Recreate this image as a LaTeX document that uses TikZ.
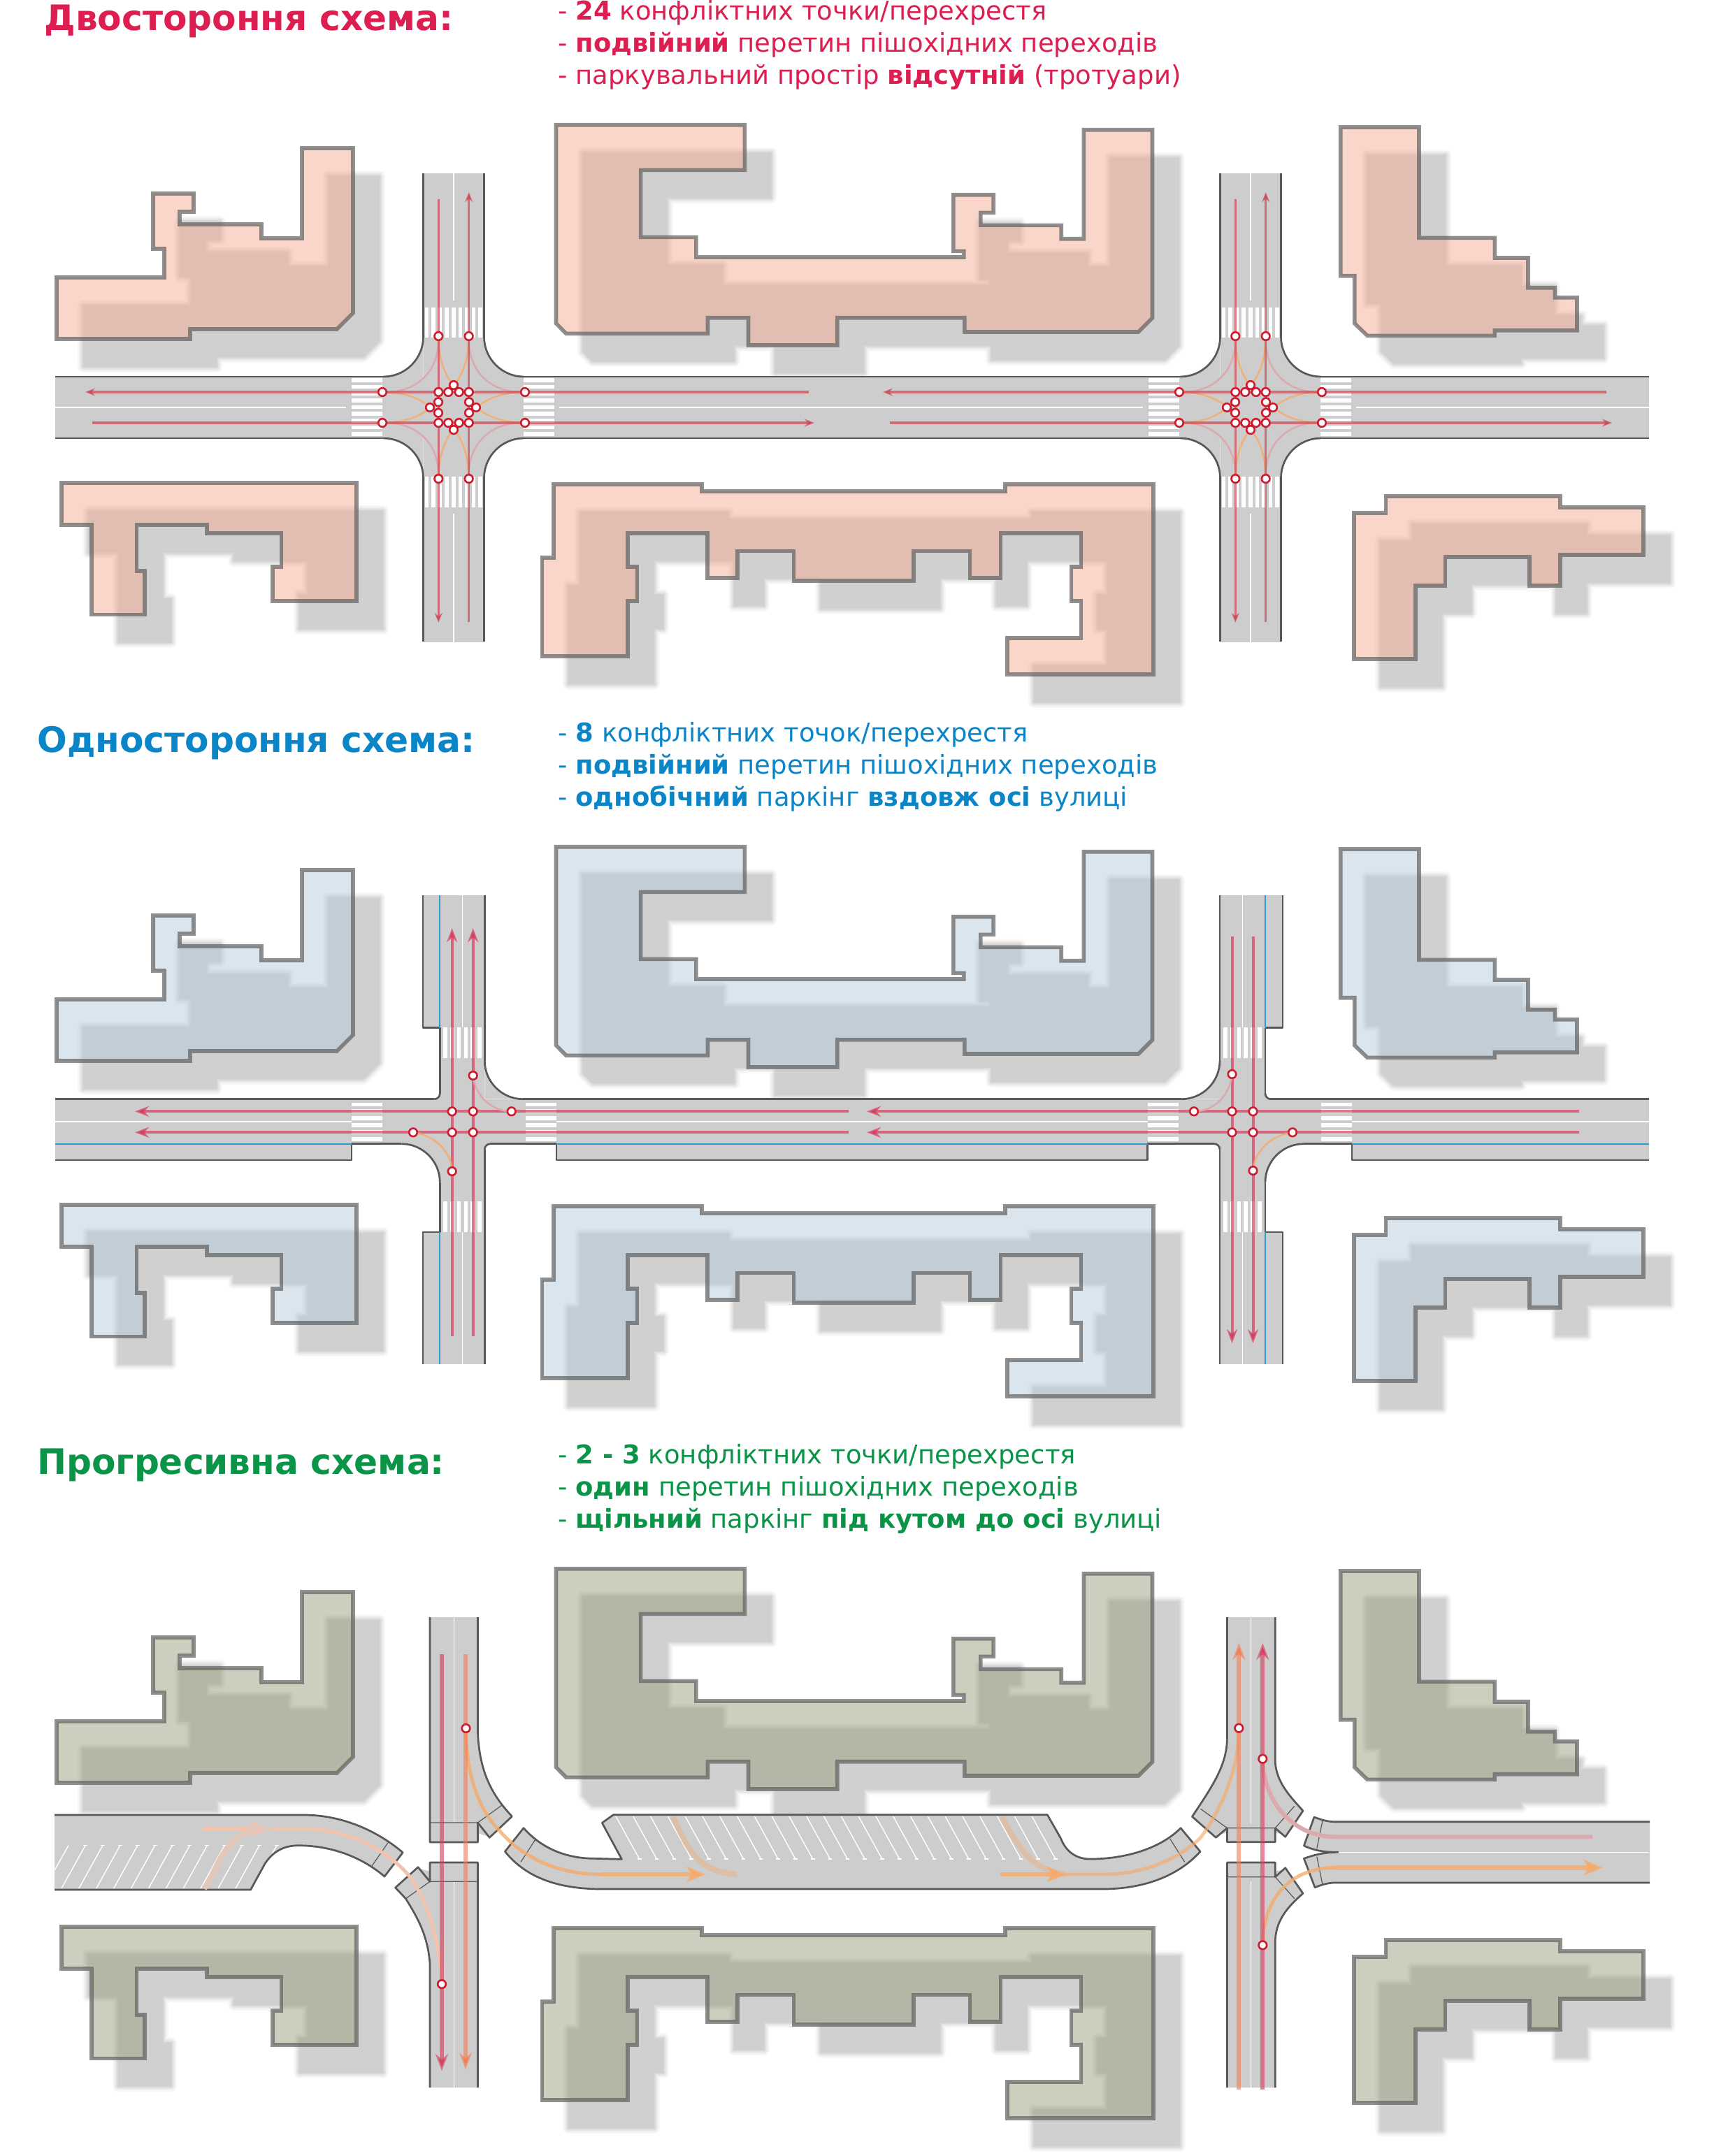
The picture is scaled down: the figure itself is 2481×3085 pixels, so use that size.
\documentclass[tikz,border=0pt]{standalone}
\usepackage{fontspec}
\setmainfont{DejaVu Sans}
\usetikzlibrary{arrows.meta}

\definecolor{shadowgrey}{HTML}{D0D0D0}
\definecolor{roadgrey}{HTML}{CDCDCD}
\definecolor{kerbgrey}{HTML}{585858}
\definecolor{wallgrey}{HTML}{606060}
\definecolor{lanered}{HTML}{CE4755}
\definecolor{lanepink}{HTML}{D73D5E}
\definecolor{lanesalmon}{HTML}{F37E56}
\definecolor{turnorange}{HTML}{F5AB6B}
\definecolor{turnpink}{HTML}{DBA9AE}
\definecolor{turnpale}{HTML}{F2C4AE}
\definecolor{pointred}{HTML}{CF1B2E}
\definecolor{parkblue}{HTML}{2F9AD0}
\definecolor{textred}{HTML}{DC1E50}
\definecolor{textblue}{HTML}{0A85C8}
\definecolor{textgreen}{HTML}{0A9447}
\definecolor{housepink}{HTML}{F5AD95}
\definecolor{houseblue}{HTML}{B7CBDB}
\definecolor{houseolive}{HTML}{97A17D}

\tikzset{
  road/.style={fill=roadgrey},
  kerb/.style={draw=kerbgrey,line width=1.35pt,line join=round},
  thinkerb/.style={draw=kerbgrey,line width=0.6pt},
  stripe/.style={draw=white,line width=2.8pt},
  midline/.style={draw=white,line width=0.8pt},
  parkline/.style={draw=white,line width=0.7pt},
  bluekerb/.style={draw=parkblue,line width=0.9pt},
  lane/.style={draw=lanered,draw opacity=0.7,line width=1.7pt,-{Stealth[length=7pt,width=5.5pt]}},
  widelane/.style={draw=lanepink,draw opacity=0.7,line width=2pt,-{Stealth[length=10pt,width=7.5pt]}},
  fatlane/.style={draw=lanepink,draw opacity=0.62,line width=3pt,-{Stealth[length=12pt,width=9pt]}},
  turn/.style={draw=turnorange,draw opacity=0.85,line width=1.25pt},
  paleturn/.style={draw=turnpink,line width=1.25pt},
  bigturn/.style={draw=turnorange,draw opacity=0.85,line width=3.3pt},
  bigarrow/.style={bigturn,-{Stealth[length=13pt,width=11pt,inset=3pt]}},
  curveturn/.style={draw=turnorange,draw opacity=0.8,line width=2.4pt},
  faintturn/.style={draw=turnpale,line width=2.5pt},
  ramp/.style={draw=turnorange,draw opacity=0.45,line width=0.7pt,double=turnorange!25!roadgrey,double distance=2.6pt},
  conflict/.style={circle,draw=pointred,fill=white,line width=1.3pt,minimum size=5.8pt,inner sep=0pt},
  head/.style={font=\fontsize{25.1}{25.1}\selectfont\bfseries,anchor=base west,inner sep=0pt},
  listline/.style={font=\fontsize{18.5}{18.5}\selectfont,anchor=base west,inner sep=0pt}
}

% Building outlines of the first panel
\def\blockA{(81,485) -- (81,397) -- (235,397) -- (235,356) -- (219,356) -- (219,277) -- (277,277) -- (277,303) -- (257,303) -- (257,321) -- (374,321) -- (374,341) -- (432,341) -- (432,212) -- (505,212) -- (505,448) -- (482,471) -- (272,471) -- (272,485) -- cycle}
\def\blockB{(795.5,178.7) -- (1065.3,178.7) -- (1065.3,243.3) -- (916.6,243.3) -- (916.6,339.3) -- (995.8,339.3) -- (995.8,368) -- (1378.7,368) -- (1378.7,359.3) -- (1363.8,359.3) -- (1363.8,278.7) -- (1421.2,278.7) -- (1421.2,304.3) -- (1402.8,304.3) -- (1402.8,322.3) -- (1518.2,322.3) -- (1518.2,341.7) -- (1550.4,341.7) -- (1550.4,185.7) -- (1648.5,185.7) -- (1648.5,455) -- (1628.5,475) -- (1379.9,475) -- (1379.9,454.7) -- (1197.9,454.7) -- (1197.9,494) -- (1070.5,494) -- (1070.5,454.7) -- (1012.5,454.7) -- (1012.5,477.3) -- (809.9,477.3) -- (795.5,462.7) -- cycle}
\def\blockC{(1917.7,182) -- (2030,182) -- (2030,340.3) -- (2138.3,340.3) -- (2138.3,369) -- (2186,369) -- (2186,411.7) -- (2224.3,411.7) -- (2224.3,425.7) -- (2256,425.7) -- (2256,472.7) -- (2138.3,472.7) -- (2138.3,480.3) -- (1956,480.3) -- (1937.7,462.7) -- (1937.7,394.7) -- (1917.7,394.7) -- cycle}
\def\blockD{(88,691) -- (510,691) -- (510,860) -- (390,860) -- (390,810.7) -- (402.3,810.7) -- (402.3,763) -- (296,763) -- (296,750.7) -- (195.3,750.7) -- (195.3,816.7) -- (207,816.7) -- (207,879.3) -- (131,879.3) -- (131,750.7) -- (88,750.7) -- cycle}
\def\blockE{(791.7,692.7) -- (1004.1,692.7) -- (1004.1,703) -- (1437.8,703) -- (1437.8,692.7) -- (1649.7,692.7) -- (1649.7,965) -- (1440.8,965) -- (1440.8,912.7) -- (1546.4,912.7) -- (1546.4,860) -- (1532.3,860) -- (1532.3,810.7) -- (1546.4,810.7) -- (1546.4,762.7) -- (1431.4,762.7) -- (1431.4,827) -- (1387.3,827) -- (1387.3,788.3) -- (1307,788.3) -- (1307,830.7) -- (1135.6,830.7) -- (1135.6,788.3) -- (1055.2,788.3) -- (1055.2,827) -- (1011.8,827) -- (1011.8,762.7) -- (897.9,762.7) -- (897.9,810.7) -- (911.4,810.7) -- (911.4,860) -- (897.9,860) -- (897.9,939) -- (775.3,939) -- (775.3,798) -- (791.7,798) -- cycle}
\def\blockF{(1936.7,734) -- (1982.3,734) -- (1982.3,710) -- (2231.7,710) -- (2231.7,726) -- (2351,726) -- (2351,794) -- (2231.7,794) -- (2231.7,837.7) -- (2187.7,837.7) -- (2187.7,796.7) -- (2067.3,796.7) -- (2067.3,837.7) -- (2024.7,837.7) -- (2024.7,942.7) -- (1936.7,942.7) -- cycle}

\newcommand{\softshadow}[1]{%
  \draw[draw=shadowgrey!14,line width=8pt,line join=round] #1;
  \draw[draw=shadowgrey!32,line width=6pt,line join=round] #1;
  \draw[draw=shadowgrey!55,line width=4pt,line join=round] #1;
  \draw[draw=shadowgrey!80,line width=2pt,line join=round] #1;
  \fill[shadowgrey] #1;
}
\newcommand{\allshadows}[1]{%
  \begin{scope}[shift={(38,#1+40)}]
    \softshadow{\blockA}\softshadow{\blockB}\softshadow{\blockC}
    \softshadow{\blockD}\softshadow{\blockE}\softshadow{\blockF}
  \end{scope}
}
\newcommand{\allblocks}[2]{%
  \begin{scope}[shift={(0,#1)},fill=#2,fill opacity=0.5,draw=wallgrey,draw opacity=0.7,line width=2.8pt,line join=miter]
    \filldraw \blockA; \filldraw \blockB; \filldraw \blockC;
    \filldraw \blockD; \filldraw \blockE; \filldraw \blockF;
  \end{scope}
}
% Curved kerb: corner x, corner y, x sign, y sign, radius
\newcommand{\roadbend}[5]{%
  \fill[road] ({#1+#3*#5},#2) .. controls ({#1+#3*0.45*#5},#2) and (#1,{#2+#4*0.45*#5}) .. (#1,{#2+#4*#5}) -- (#1,#2) -- cycle;
  \draw[kerb] ({#1+#3*#5},#2) .. controls ({#1+#3*0.45*#5},#2) and (#1,{#2+#4*0.45*#5}) .. (#1,{#2+#4*#5});
}
% Road, zebra and turns of one junction in the first panel
\newcommand{\fullcross}[1]{%
  \fill[road] ({#1-43.5},248) rectangle ({#1+43.5},919);
  \foreach \i in {0,...,8} {
    \draw[stripe] ({#1-38.6+9.6*\i},440) -- ({#1-38.6+9.6*\i},483);
    \draw[stripe] ({#1-38.6+9.6*\i},682) -- ({#1-38.6+9.6*\i},726);
    \draw[stripe] ({#1-146},{544+9.65*\i}) -- ({#1-102},{544+9.65*\i});
    \draw[stripe] ({#1+100},{544+9.65*\i}) -- ({#1+144},{544+9.65*\i});
  }
  \draw[midline] (#1,248) -- (#1,430);
  \draw[midline] (#1,735) -- (#1,919);
  \foreach \sx in {-1,1} \foreach \sy in {-1,1} {
    \roadbend{#1+\sx*43.5}{583+\sy*44}{\sx}{\sy}{57}
    \draw[kerb] ({#1+\sx*43.5},{583+\sy*101}) -- ({#1+\sx*43.5},{583+\sy*335});
    \draw[paleturn] ({#1+\sx*21.7},{583+\sy*96}) .. controls ({#1+\sx*21.7},{583+\sy*50}) and ({#1+\sx*55},{583+\sy*22}) .. ({#1+\sx*96},{583+\sy*22});
    \draw[turn] ({#1+\sx*21.7},{583+\sy*102}) .. controls ({#1+\sx*21.7},{583+\sy*65}) and ({#1+\sx*10},{583+\sy*42}) .. (#1,{583+\sy*32});
    \draw[turn] ({#1+\sx*102},{583+\sy*22}) .. controls ({#1+\sx*65},{583+\sy*22}) and ({#1+\sx*45},{583+\sy*10}) .. ({#1+\sx*33},583);
  }
}
\newcommand{\fullpoints}[1]{%
  \foreach \dx/\dy [count=\n] in {-21.7/-102,21.7/-102,-21.7/102,21.7/102,-102/-22,-102/22,102/-22,102/22,
      -21.7/-22,21.7/-22,-21.7/22,21.7/22,-7.7/-22,7.7/-22,-7.7/22,7.7/22,
      -22/-7.7,-22/7.7,22/-7.7,22/7.7,0/-32,0/32,-34/0,32/0}
    \node[conflict] (p#1n\n) at ({#1+\dx},{583+\dy}) {};
}

\begin{document}
\begin{tikzpicture}[x=0.5pt,y=-0.5pt]
    \useasboundingbox (0,0) rectangle (2481,3085);

    % Draw shadows
    \allshadows{0}
    \allshadows{1033}
    \allshadows{2066}

    % Labels
    \node[head,text=textred] (title1) at (63,43) {Двостороння схема:};
    \node[listline,text=textred] (list1a) at (798,28) {- \textbf{24} конфліктних точки/перехрестя};
    \node[listline,text=textred] (list1b) at (798,74) {- \textbf{подвійний} перетин пішохідних переходів};
    \node[listline,text=textred] (list1c) at (798,120) {- паркувальний простір \textbf{відсутній} (тротуари)};
    \node[head,text=textblue] (title2) at (53,1076) {Одностороння схема:};
    \node[listline,text=textblue] (list2a) at (798,1061) {- \textbf{8} конфліктних точок/перехрестя};
    \node[listline,text=textblue] (list2b) at (798,1107) {- \textbf{подвійний} перетин пішохідних переходів};
    \node[listline,text=textblue] (list2c) at (798,1153) {- \textbf{однобічний} паркінг \textbf{вздовж осі} вулиці};
    \node[head,text=textgreen] (title3) at (53,2109) {Прогресивна схема:};
    \node[listline,text=textgreen] (list3a) at (798,2094) {- \textbf{2 - 3} конфліктних точки/перехрестя};
    \node[listline,text=textgreen] (list3b) at (798,2140) {- \textbf{один} перетин пішохідних переходів};
    \node[listline,text=textgreen] (list3c) at (798,2186) {- \textbf{щільний} паркінг \textbf{під кутом до осі} вулиці};

    % Draw first panel
    \fill[road] (79,539) rectangle (2359,627);
    \fullcross{649}
    \fullcross{1789}
    \draw[midline] (79,583) -- (495,583);
    \draw[midline] (800,583) -- (1635,583);
    \draw[midline] (1940,583) -- (2359,583);
    \foreach \y in {539,627} {
      \draw[kerb] (79,\y) -- (549,\y);
      \draw[kerb] (749,\y) -- (1689,\y);
      \draw[kerb] (1889,\y) -- (2359,\y);
    }
    \draw[lane] (1157,561) -- (122,561);
    \draw[lane] (2298,561) -- (1263,561);
    \draw[lane] (132,605) -- (1165,605);
    \draw[lane] (1273,605) -- (2306,605);
    \foreach \cx in {649,1789} {
      \draw[lane] ({\cx-21.7},285) -- ({\cx-21.7},891);
      \draw[lane] ({\cx+21.7},890) -- ({\cx+21.7},275);
    }
    \fullpoints{649}
    \fullpoints{1789}
    \allblocks{0}{housepink}

    % Draw second panel
    \fill[road] (79,1572.7) rectangle (2359,1636.7);
    \fill[road] (79,1636) rectangle (503,1660);
    \fill[road] (796,1636) rectangle (1641.5,1660);
    \fill[road] (1934,1636) rectangle (2359,1660);
    \fill[road] (629.3,1281) rectangle (693.3,1952);
    \fill[road] (605,1281) rectangle (630,1470.7);
    \fill[road] (605,1763) rectangle (630,1952);
    \fill[road] (1745,1281) rectangle (1810,1952);
    \fill[road] (1809,1281) rectangle (1835,1470.7);
    \fill[road] (1809,1763) rectangle (1835,1952);
    % Zebra
    \foreach \i in {0,...,5} {
      \draw[stripe] ({637+9.8*\i},1470) -- ({637+9.8*\i},1514);
      \draw[stripe] ({637+9.8*\i},1719) -- ({637+9.8*\i},1763);
      \draw[stripe] ({1752.8+9.8*\i},1470) -- ({1752.8+9.8*\i},1514);
      \draw[stripe] ({1752.8+9.8*\i},1719) -- ({1752.8+9.8*\i},1763);
      \draw[stripe] (503,{1580.3+9.9*\i}) -- (547,{1580.3+9.9*\i});
      \draw[stripe] (752,{1580.3+9.9*\i}) -- (796,{1580.3+9.9*\i});
      \draw[stripe] (1641.5,{1580.3+9.9*\i}) -- (1685.5,{1580.3+9.9*\i});
      \draw[stripe] (1890,{1580.3+9.9*\i}) -- (1934,{1580.3+9.9*\i});
    }
    \draw[midline] (79,1604.7) -- (503,1604.7);
    \draw[midline] (796,1604.7) -- (1641.5,1604.7);
    \draw[midline] (1934,1604.7) -- (2359,1604.7);
    \foreach \cx in {661.3,1777.5} {
      \draw[midline] (\cx,1281) -- (\cx,1470);
      \draw[midline] (\cx,1763) -- (\cx,1952);
    }
    % Kerbs
    \roadbend{693.3}{1572.7}{1}{-1}{55}
    \roadbend{629.3}{1636.7}{-1}{1}{55}
    \roadbend{629.3}{1572.7}{-1}{-1}{8}
    \roadbend{693.3}{1636.7}{1}{1}{8}
    \roadbend{1745}{1572.7}{-1}{-1}{55}
    \roadbend{1810}{1636.7}{1}{1}{55}
    \roadbend{1810}{1572.7}{1}{-1}{8}
    \roadbend{1745}{1636.7}{-1}{1}{8}
    \draw[kerb] (79,1572.7) -- (621.3,1572.7);
    \draw[kerb] (748.3,1572.7) -- (1690,1572.7);
    \draw[kerb] (1818,1572.7) -- (2359,1572.7);
    \draw[kerb] (79,1660) -- (503,1660) -- (503,1636.7) -- (574.3,1636.7);
    \draw[kerb] (701.3,1636.7) -- (796,1636.7) -- (796,1660) -- (1641.5,1660) -- (1641.5,1636.7) -- (1737,1636.7);
    \draw[kerb] (1865,1636.7) -- (1934,1636.7) -- (1934,1660) -- (2359,1660);
    \draw[kerb] (605,1281) -- (605,1470.7) -- (629.3,1470.7) -- (629.3,1564.7);
    \draw[kerb] (629.3,1691.7) -- (629.3,1763) -- (605,1763) -- (605,1952);
    \draw[kerb] (693.3,1281) -- (693.3,1517.7);
    \draw[kerb] (693.3,1644.7) -- (693.3,1952);
    \draw[kerb] (1745,1281) -- (1745,1517.7);
    \draw[kerb] (1745,1644.7) -- (1745,1952);
    \draw[kerb] (1835,1281) -- (1835,1470.7) -- (1810,1470.7) -- (1810,1564.7);
    \draw[kerb] (1810,1691.7) -- (1810,1763) -- (1835,1763) -- (1835,1952);
    % Parking edge
    \draw[bluekerb] (79,1636.7) -- (503,1636.7);
    \draw[bluekerb] (796,1636.7) -- (1641.5,1636.7);
    \draw[bluekerb] (1934,1636.7) -- (2359,1636.7);
    \draw[bluekerb] (629.3,1281) -- (629.3,1470.7);
    \draw[bluekerb] (629.3,1763) -- (629.3,1952);
    \draw[bluekerb] (1810,1281) -- (1810,1470.7);
    \draw[bluekerb] (1810,1763) -- (1810,1952);
    % Lanes
    \foreach \y in {1590.3,1620.3} {
      \draw[widelane] (1214,\y) -- (193,\y);
      \draw[widelane] (2259,\y) -- (1240,\y);
    }
    \foreach \x in {646.7,676.7} \draw[widelane] (\x,1912) -- (\x,1328);
    \foreach \x in {1762.5,1792.5} \draw[widelane] (\x,1340) -- (\x,1922);
    \draw[paleturn] (676.7,1539) .. controls (680,1570) and (705,1590) .. (731.7,1590.3);
    \draw[turn] (591,1620.3) .. controls (625,1625) and (646,1650) .. (646.7,1676);
    \draw[paleturn] (1762.5,1537) .. controls (1759,1570) and (1735,1590) .. (1708,1590.3);
    \draw[turn] (1849,1620.3) .. controls (1815,1625) and (1794,1650) .. (1792.5,1675);
    % Conflict points
    \foreach \cx in {646.7,676.7,1762.5,1792.5} \foreach \cy in {1590.3,1620.3}
      \node[conflict] (q\cx/\cy) at (\cx,\cy) {};
    \node[conflict] (q1) at (676.7,1539) {};
    \node[conflict] (q2) at (731.7,1590.3) {};
    \node[conflict] (q3) at (591,1620.3) {};
    \node[conflict] (q4) at (646.7,1676) {};
    \node[conflict] (q5) at (1762.5,1537) {};
    \node[conflict] (q6) at (1708,1590.3) {};
    \node[conflict] (q7) at (1849,1620.3) {};
    \node[conflict] (q8) at (1792.5,1675) {};
    \allblocks{1033}{houseblue}

    % Draw third panel
    % West road
    \def\westroad{(78,2597) -- (435,2597) .. controls (490,2597) and (540,2620) .. (576.3,2650.7) -- (550,2685) .. controls (515,2655) and (470,2640.7) .. (427,2640.7) .. controls (405,2640.7) and (390,2650) .. (379,2666.7) -- (358.5,2704) -- (78,2704)}
    \fill[road] \westroad -- cycle;
    \draw[parkline] (98,2640.7) -- (78,2676);
    \foreach \i in {0,...,11} {
      \draw[parkline] ({88+24.9*\i},2702) -- ({122+24.9*\i},2640.7);
      \draw[parkline] ({119+24.9*\i},2640.7) -- ({125+24.9*\i},2640.7);
    }
    \draw[kerb] \westroad;
    \draw[thinkerb] (555,2636.7) -- (532,2670);
    % Middle road
    \def\midroad{(749,2615.7) .. controls (775,2645) and (810,2659.3) .. (850.8,2659.3) -- (889.4,2660.3) -- (861.3,2608.3) -- (877.5,2596.7) -- (1498.3,2596.7) -- (1517.3,2630) .. controls (1525,2650) and (1540,2660) .. (1559.4,2660) .. controls (1610,2660) and (1660,2645) .. (1689,2615.7) -- (1717,2649.3) .. controls (1685,2685) and (1635,2703) .. (1577,2703) -- (861,2703) .. controls (805,2703) and (755,2690) .. (722.4,2649.3) -- cycle}
    \fill[road] \midroad;
    \foreach \i in {0,...,24} {
      \draw[parkline] ({914.7+24.8*\i},2660) -- ({881+24.8*\i},2599);
      \draw[parkline,line width=1.4pt] ({912+24.8*\i},2660) -- ({917.5+24.8*\i},2660);
    }
    \draw[kerb] \midroad;
    \draw[thinkerb] (766.6,2631) -- (745,2664.3);
    \draw[thinkerb] (1673.7,2631) -- (1694.7,2664.3);
    % First cross street
    \fill[road] (615,2314) -- (683.5,2314) -- (683.5,2480) .. controls (686,2530) and (700,2565) .. (732.5,2599) -- (700.3,2629.3) .. controls (695,2625) and (690,2627) .. (683.5,2622) -- (683.5,2636) -- (615,2636) -- cycle;
    \fill[road] (615,2665) -- (683.5,2665) -- (683.5,2987) -- (615,2987) -- (615,2810) .. controls (612,2770) and (598,2745) .. (580.4,2716.7) -- (565.6,2701) -- (598,2671.7) .. controls (603,2676) and (608,2675) .. (615,2678) -- cycle;
    \draw[midline] (649.3,2314) -- (649.3,2608);
    \draw[midline] (649.3,2692) -- (649.3,2987);
    \draw[kerb] (683.5,2314) -- (683.5,2480) .. controls (686,2530) and (700,2565) .. (732.5,2599) -- (700.3,2629.3) -- (683.5,2608) -- (683.5,2636) -- (615,2636) -- (615,2314);
    \draw[kerb] (683.5,2987) -- (683.5,2665) -- (615,2665) -- (615,2692.3) -- (598,2671.7) -- (565.6,2701) -- (580.4,2716.7) .. controls (598,2745) and (612,2770) .. (615,2810) -- (615,2987);
    \draw[thinkerb] (615,2608) -- (683.5,2608) -- (718,2583);
    \draw[thinkerb] (580.4,2716.7) -- (615,2692.3) -- (683.5,2692.3);
    % Second cross street
    \fill[road] (1755.4,2314) -- (1824.2,2314) -- (1824.2,2521) .. controls (1826,2550) and (1845,2570) .. (1864,2591) -- (1838.7,2628.3) .. controls (1835,2622) and (1830,2625) .. (1824.2,2622) -- (1824.2,2635.7) -- (1755.4,2635.7) -- (1755.4,2622) .. controls (1750,2625) and (1745,2622) .. (1739.4,2629.3) -- (1705.4,2599.3) .. controls (1735,2555) and (1755.4,2525) .. (1755.4,2486.7) -- cycle;
    \fill[road] (1755.4,2665) -- (1824.2,2665) -- (1824.2,2678) .. controls (1830,2675) and (1835,2678) .. (1838.7,2672.7) -- (1864,2709.3) .. controls (1840,2730) and (1824.2,2750) .. (1824.2,2780) -- (1824.2,2987) -- (1755.4,2987) -- cycle;
    \draw[midline] (1789.3,2314) -- (1789.3,2609);
    \draw[midline] (1789.3,2692) -- (1789.3,2987);
    \draw[kerb] (1755.4,2314) -- (1755.4,2486.7) .. controls (1755.4,2525) and (1735,2555) .. (1705.4,2599.3) -- (1739.4,2629.3) -- (1755.4,2615.7) -- (1755.4,2635.7) -- (1824.2,2635.7) -- (1824.2,2615.7) -- (1838.7,2628.3) -- (1864,2591) .. controls (1845,2570) and (1826,2550) .. (1824.2,2521) -- (1824.2,2314);
    \draw[kerb] (1755.4,2987) -- (1755.4,2665) -- (1824.2,2665) -- (1824.2,2685.7) -- (1838.7,2672.7) -- (1864,2709.3) .. controls (1840,2730) and (1824.2,2750) .. (1824.2,2780) -- (1824.2,2987);
    \draw[thinkerb] (1717.6,2588.3) -- (1755.4,2615.7) -- (1824.2,2615.7) -- (1851.8,2584.3);
    \draw[thinkerb] (1755.4,2685.7) -- (1824.2,2685.7) -- (1851.8,2716.7);
    % East road
    \fill[road] (2360,2606.7) -- (1909,2606.7) .. controls (1900,2606.7) and (1890,2604) .. (1880,2600) -- (1865.4,2641) .. controls (1880,2648) and (1895,2650.3) .. (1914,2650.3) -- (2360,2650.3) -- cycle;
    \fill[road] (2360,2694) -- (1909,2694) .. controls (1900,2694) and (1890,2697) .. (1881,2700.7) -- (1865.4,2659.3) .. controls (1880,2654) and (1895,2650.3) .. (1914,2650.3) -- (2360,2650.3) -- cycle;
    \draw[midline] (1914,2650.3) -- (2358,2650.3);
    \draw[kerb] (2360,2606.7) -- (1909,2606.7) .. controls (1900,2606.7) and (1890,2604) .. (1880,2600) -- (1865.4,2641) .. controls (1880,2648) and (1895,2650.3) .. (1914,2650.3) .. controls (1895,2650.3) and (1880,2654) .. (1865.4,2659.3) -- (1881,2700.7) .. controls (1890,2697) and (1900,2694) .. (1909,2694) -- (2360,2694);
    \draw[thinkerb] (1892,2605) -- (1883.8,2645);
    \draw[thinkerb] (1883.8,2656.7) -- (1892,2696.7);
    % Turns
    \draw[faintturn] (386,2617) -- (435,2617) .. controls (500,2617) and (560,2650) .. (590,2690) .. controls (615,2730) and (628,2780) .. (632,2832);
    \draw[faintturn,line width=3.3pt,-{Stealth[length=13pt,width=11pt,inset=3pt]}] (288.6,2617) -- (384,2617);
    \draw[faintturn,line width=0.7pt,double=turnpale!45!roadgrey,double distance=2.6pt] (292,2702) .. controls (310,2680) and (320,2620) .. (376,2615);
    \draw[curveturn] (666.5,2473) .. controls (666.5,2540) and (685,2590) .. (715,2620) .. controls (750,2660) and (800,2682) .. (860,2682);
    \draw[ramp] (963,2600) .. controls (985,2650) and (1000,2678) .. (1054,2682);
    \draw[bigarrow] (860,2682) -- (1008.7,2682);
    \draw[ramp] (1433,2600) .. controls (1460,2650) and (1480,2676) .. (1524,2682);
    \draw[bigarrow] (1431,2682) -- (1524,2682);
    \draw[curveturn,draw opacity=0.65] (1522,2682) -- (1577,2682) .. controls (1630,2682) and (1680,2665) .. (1717,2630) .. controls (1740,2600) and (1772.3,2540) .. (1772.3,2473);
    \draw[paleturn,line width=3pt] (1806.3,2523) .. controls (1810,2580) and (1850,2628.3) .. (1911,2628.3) -- (2278,2628.3);
    \draw[curveturn] (1806.3,2776.7) .. controls (1810,2710) and (1850,2672.3) .. (1911,2672.3);
    \draw[bigarrow] (1911,2672.3) -- (2292,2672.3);
    % Lanes
    \draw[fatlane,draw=lanepink] (632,2367) -- (632,2963);
    \draw[fatlane,draw=lanesalmon] (666,2367) -- (666,2961);
    \draw[fatlane,draw=lanesalmon] (1772.3,2990) -- (1772.3,2351);
    \draw[fatlane,draw=lanepink] (1806.3,2990) -- (1806.3,2351);
    % Conflict points
    \node[conflict] (r1) at (632,2839) {};
    \node[conflict] (r2) at (666.5,2473) {};
    \node[conflict] (r3) at (1772.3,2472.7) {};
    \node[conflict] (r4) at (1806.3,2516.7) {};
    \node[conflict] (r5) at (1806.3,2783.3) {};
    \allblocks{2066}{houseolive}
\end{tikzpicture}
\end{document}
